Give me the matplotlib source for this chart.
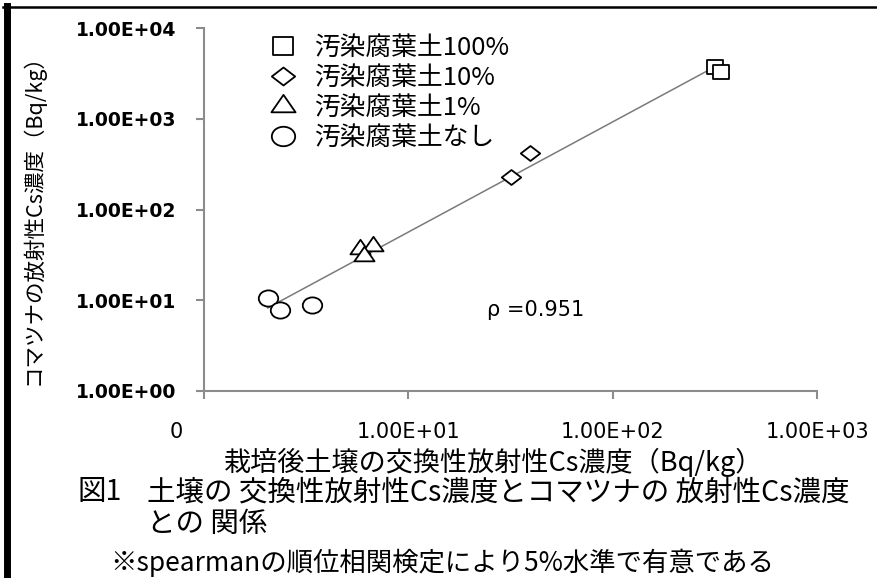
import numpy as np
import matplotlib
matplotlib.use("Agg")
import matplotlib.pyplot as plt
from matplotlib.path import Path
from matplotlib.lines import Line2D
from matplotlib.transforms import ScaledTranslation
from matplotlib.ticker import FixedLocator, FixedFormatter, NullLocator

plt.rcParams["font.family"] = ["Noto Sans CJK JP", "DejaVu Sans"]

# ---- data (Bq/kg) ----
soil_100 = [317, 338]
plant_100 = [3750, 3250]
soil_10 = [39.3, 31.7]
plant_10 = [416, 230]
soil_1 = [5.8, 6.75, 6.1]
plant_1 = [36.7, 39.9, 31.0]
soil_0 = [2.05, 2.35, 3.36]
plant_0 = [10.6, 7.8, 8.9]

series_labels = ["汚染腐葉土100%", "汚染腐葉土10%", "汚染腐葉土1%", "汚染腐葉土なし"]
x_ticks = [1, 10, 100, 1000]
x_ticklabels = ["0", "1.00E+01", "1.00E+02", "1.00E+03"]
y_ticks = [1, 10, 100, 1000, 10000]
y_ticklabels = ["1.00E+00", "1.00E+01", "1.00E+02", "1.00E+03", "1.00E+04"]
rho_text = "ρ =0.951"


def _marker(verts, sx=1.2):
    v = np.asarray(verts, dtype=float).copy()
    v[:, 0] *= sx
    return Path(v, closed=True)


circ = Path.unit_circle()
m_circle = Path(circ.vertices * [1.2, 1.0], circ.codes)
m_square = _marker([[-1, -1], [1, -1], [1, 1], [-1, 1], [-1, -1]], sx=1.12)
m_diamond = _marker([[0, 1], [-1, 0], [0, -1], [1, 0], [0, 1]], sx=1.3)
m_triangle = _marker([[0, 1], [-0.866, -0.5], [0.866, -0.5], [0, 1]], sx=1.2)

fig = plt.figure(figsize=(8.77, 5.78), dpi=100)
fig.patch.set_facecolor("white")
W, H = 877, 578
ax = fig.add_axes([204 / W, 187 / H, 613 / W, 363 / H])
ax.set_xscale("log")
ax.set_yscale("log")
ax.set_xlim(1, 1000)
ax.set_ylim(1, 10000)

# power trendline (fit in log space)
all_x = np.array(soil_100 + soil_10 + soil_1 + soil_0)
all_y = np.array(plant_100 + plant_10 + plant_1 + plant_0)
b, a = np.polyfit(np.log10(all_x), np.log10(all_y), 1)
xs = np.array([all_x.min(), all_x.max()])
ax.plot(xs, 10 ** (a + b * np.log10(xs)), color="#7a7a7a", lw=1.1, zorder=2)

mk = dict(linestyle="none", mfc="white", mec="black", mew=1.3, zorder=3)
ax.plot(soil_100, plant_100, marker=m_square, ms=12, label=series_labels[0], **mk)
ax.plot(soil_10, plant_10, marker=m_diamond, ms=14, label=series_labels[1], **mk)
ax.plot(soil_1, plant_1, marker=m_triangle, ms=14.5, label=series_labels[2], **mk)
ax.plot(soil_0, plant_0, marker=m_circle, ms=14, label=series_labels[3], **mk)

ax.text(42, 7.8, rho_text, ha="center", va="center", fontsize=15,
        family="DejaVu Sans")

# axes styling
for s in ["top", "right"]:
    ax.spines[s].set_visible(False)
for s in ["left", "bottom"]:
    ax.spines[s].set_color("#8c8c8c")
    ax.spines[s].set_linewidth(1.5)

ax.xaxis.set_major_locator(FixedLocator(x_ticks))
ax.xaxis.set_major_formatter(FixedFormatter(x_ticklabels))
ax.yaxis.set_major_locator(FixedLocator(y_ticks))
ax.yaxis.set_major_formatter(FixedFormatter(y_ticklabels))
ax.xaxis.set_minor_locator(NullLocator())
ax.yaxis.set_minor_locator(NullLocator())
ax.tick_params(axis="both", direction="out", length=6, width=1.5,
               color="#8c8c8c")
ax.tick_params(axis="x", pad=16)
ax.tick_params(axis="y", pad=14)
for lbl in ax.get_xticklabels():
    lbl.set_family("DejaVu Sans")
    lbl.set_fontsize(15)
for lbl in ax.get_yticklabels():
    lbl.set_family("DejaVu Sans")
    lbl.set_fontweight("bold")
    lbl.set_fontsize(13.5)

# "0" label sits left of its tick in the original
fig.canvas.draw()
first = ax.get_xticklabels()[0]
first.set_transform(first.get_transform()
                    + ScaledTranslation(-28 / 100, 0, fig.dpi_scale_trans))

ax.set_xlabel("栽培後土壌の交換性放射性Cs濃度（Bq/kg）", fontsize=19.5, va="center")
ax.xaxis.set_label_coords(494 / W, 1 - 462 / H, transform=fig.transFigure)
ax.set_ylabel("コマツナの放射性Cs濃度（Bq/kg）", fontsize=15.5, va="center")
ax.yaxis.set_label_coords(33 / W, 1 - 214 / H, transform=fig.transFigure)

ax.legend(loc="upper left", bbox_to_anchor=(270 / W, 1 - 35 / H),
          bbox_transform=fig.transFigure, frameon=False, fontsize=18.5,
          numpoints=1, handlelength=1.0, handletextpad=0.7, markerscale=1.2,
          labelspacing=0.16, borderpad=0, borderaxespad=0)

# caption
fig.text(78 / W, 1 - 492 / H, "図1", fontsize=20.5, va="center")
fig.text(147 / W, 1 - 492 / H, "土壌の 交換性放射性Cs濃度とコマツナの 放射性Cs濃度",
         fontsize=20.5, va="center")
fig.text(147 / W, 1 - 524 / H, "との 関係", fontsize=20.5, va="center")
fig.text(110 / W, 1 - 563 / H, "※spearmanの順位相関検定により5%水準で有意である",
         fontsize=19, va="center")

# frame pieces of the original box (top and left edges)
fig.add_artist(Line2D([6.5 / W, 6.5 / W], [0, 1 - 6 / H], color="black",
                      lw=5, transform=fig.transFigure))
fig.add_artist(Line2D([3 / W, 1], [1 - 7 / H, 1 - 7 / H], color="black",
                      lw=1.8, transform=fig.transFigure))

fig.savefig("out.png", dpi=100)
